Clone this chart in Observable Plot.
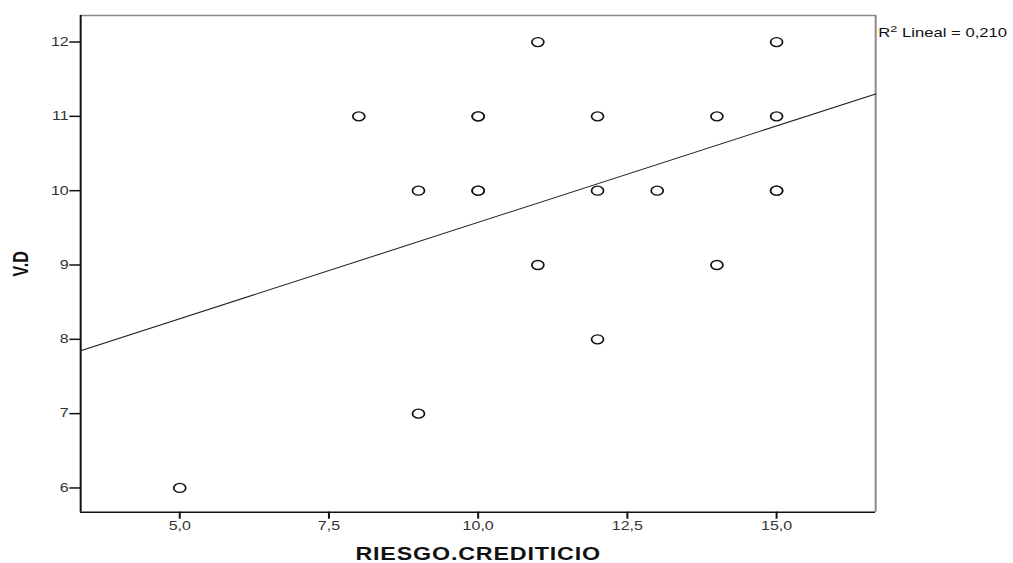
<!DOCTYPE html>
<html><head><meta charset="utf-8">
<script src="https://cdn.jsdelivr.net/npm/d3@7"></script>
<script src="https://cdn.jsdelivr.net/npm/@observablehq/plot@0.6"></script>
<style>
body{margin:0;background:#fff;overflow:hidden;}
svg{font-family:"Liberation Sans",Arial,sans-serif;display:block;}
</style></head>
<body><div id="chart"></div>
<script>
const riesgo = [5, 8, 9, 9, 10, 10, 10, 10, 11, 11, 12, 12, 12, 13, 14, 14, 15, 15, 15, 15];
const vd     = [6, 11, 10, 7, 11, 11, 10, 10, 12, 9, 11, 10, 8, 10, 11, 9, 12, 11, 10, 10];
const xTicks = [5, 7.5, 10, 12.5, 15];
const yTicks = [6, 7, 8, 9, 10, 11, 12];
const xDomain = [3.34, 16.66];
const yDomain = [5.674, 12.357];
const fitIntercept = 6.98;
const fitSlope = 0.2594;
const r2Label = "R2 Lineal = 0,210";

// the reference is drawn horizontally stretched; draw at native width, then stretch
const stretch = 1.333;
const W = 1013, H = 563;
const nativeW = W / stretch;

const pts = riesgo.map((x, i) => ({x, y: vd[i]}));
const fit = xDomain.map(x => ({x, y: fitIntercept + fitSlope * x}));
const fmt = d => d.toFixed(1).replace(".", ",");

const plot = Plot.plot({
  width: nativeW, height: H,
  marginLeft: 80 / stretch, marginRight: (W - 875) / stretch, marginTop: 15, marginBottom: 51.3,
  style: {fontFamily: '"Liberation Sans", Arial, sans-serif', fontSize: "12px", color: "#333", overflow: "visible"},
  x: {domain: xDomain},
  y: {domain: yDomain},
  marks: [
    Plot.ruleY([yDomain[1]], {stroke: "#8a8a8a", strokeWidth: 1.5}),
    Plot.ruleX([xDomain[1]], {stroke: "#8a8a8a", strokeWidth: 1.5}),
    Plot.axisX({ticks: xTicks, tickFormat: fmt, tickSize: 7, tickPadding: 2, stroke: "#111", strokeWidth: 1.5,
      fill: "#333", fontSize: 12,
      label: "RIESGO.CREDITICIO", labelAnchor: "center", labelArrow: "none", labelOffset: 48}),
    Plot.axisY({ticks: yTicks, tickFormat: d => String(d), tickSize: 8, tickPadding: 1, stroke: "#111", strokeWidth: 1.5,
      fill: "#333", fontSize: 12,
      label: "V.D", labelAnchor: "center", labelArrow: "none", labelOffset: 51}),
    Plot.ruleY([yDomain[0]], {stroke: "#111", strokeWidth: 1.5}),
    Plot.ruleX([xDomain[0]], {stroke: "#111", strokeWidth: 1.5}),
    Plot.line(fit, {x: "x", y: "y", stroke: "#222", strokeWidth: 1}),
    Plot.dot(pts, {x: "x", y: "y", r: 4.5, stroke: "#111", strokeWidth: 1.3, fill: "white"}),
    Plot.text([r2Label], {frameAnchor: "top-right", dx: 2, dy: 13, textAnchor: "start", fontSize: 12.5, fill: "#111"})
  ]
});
plot.querySelectorAll("[aria-label='x-axis label'] text, [aria-label='y-axis label'] text").forEach(t => {
  t.style.fontWeight = "bold"; t.style.fill = "#111";
});
plot.querySelectorAll("[aria-label='x-axis label'] text").forEach(t => { t.style.fontSize = "17.5px"; t.style.letterSpacing = "0.6px"; });
plot.querySelectorAll("[aria-label='y-axis label'] text").forEach(t => { t.style.fontSize = "16px"; });
// superscript for R²
plot.querySelectorAll("text").forEach(t => {
  if (t.textContent === r2Label) {
    t.textContent = "";
    const ns = "http://www.w3.org/2000/svg";
    const a = document.createElementNS(ns, "tspan"); a.textContent = "R";
    const b = document.createElementNS(ns, "tspan"); b.textContent = "2"; b.setAttribute("dy", "-5"); b.setAttribute("font-size", "9.5");
    const c = document.createElementNS(ns, "tspan"); c.textContent = " Lineal = 0,210"; c.setAttribute("dy", "5");
    t.append(a, b, c);
  }
});
plot.setAttribute("viewBox", `0 0 ${nativeW} ${H}`);
plot.setAttribute("width", W);
plot.setAttribute("height", H);
plot.setAttribute("preserveAspectRatio", "none");
plot.style.maxWidth = "none";
document.getElementById("chart").append(plot);
</script></body></html>
